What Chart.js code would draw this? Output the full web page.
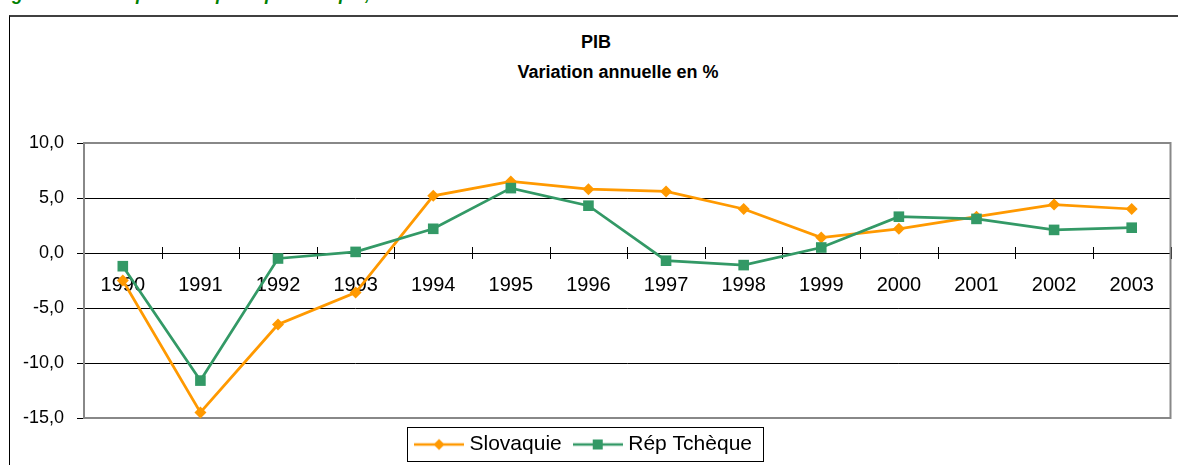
<!DOCTYPE html>
<html>
<head>
<meta charset="utf-8">
<script src="https://cdn.jsdelivr.net/npm/chart.js@4.4.1/dist/chart.umd.min.js"></script>
<style>
	html, body {
		margin: 0;
		padding: 0;
		width: 1178px;
		height: 465px;
		overflow: hidden;
		background: #fff;
		font-family: "Liberation Sans", Arial, sans-serif;
	}

	#caption {
		position: absolute;
		left: -4px;
		top: -16px;
		color: #008000;
		font-weight: bold;
		font-style: italic;
		font-size: 18px;
		white-space: nowrap;
	}

	#frame {
		position: absolute;
		left: 9px;
		top: 15px;
		width: 1200px;
		height: 500px;
		border-left: 1px solid #000;
		border-top: 2px solid #404040;
	}

	.title {
		position: absolute;
		width: 400px;
		text-align: center;
		font-weight: bold;
		font-size: 18px;
		line-height: 20px;
		color: #000;
	}

	#wrap {
		position: absolute;
		left: 0;
		top: 0;
		width: 1178px;
		height: 465px;
	}
</style>
</head>
<body>
<div id="caption">Figure 2 : Slovaquie et République tchèque, croissance du PIB</div>
<div id="frame"></div>
<div class="title" style="left: 396px; top: 32px;">PIB</div>
<div class="title" style="left: 418px; top: 62px;">Variation annuelle en %</div>
<div id="wrap"><canvas id="chart" width="1178" height="465"></canvas></div>

<script>
const years = ['1990', '1991', '1992', '1993', '1994', '1995', '1996', '1997', '1998', '1999', '2000', '2001', '2002', '2003'];
const slovaquie = [-2.5, -14.5, -6.5, -3.6, 5.2, 6.5, 5.8, 5.6, 4.0, 1.4, 2.2, 3.3, 4.4, 4.0];
const repTcheque = [-1.2, -11.6, -0.5, 0.1, 2.2, 5.9, 4.3, -0.7, -1.1, 0.5, 3.3, 3.1, 2.1, 2.3];
const yMin = -15;
const yMax = 10;
const yStep = 5;

const ORANGE = '#FF9900';
const GREEN = '#339966';
const FONT = '"Liberation Sans", Arial, sans-serif';

function formatTick(value) {
	return Number(value).toFixed(1).replace('.', ',');
}

function makeLegendIcon(color, style) {
	const icon = document.createElement('canvas');
	icon.width = 50;
	icon.height = 14;
	const ctx = icon.getContext('2d');

	ctx.strokeStyle = color;
	ctx.lineWidth = 2.5;
	ctx.beginPath();
	ctx.moveTo(0, 7);
	ctx.lineTo(50, 7);
	ctx.stroke();

	ctx.fillStyle = color;
	if (style === 'diamond') {
		ctx.beginPath();
		ctx.moveTo(25, 1.5);
		ctx.lineTo(30.5, 7);
		ctx.lineTo(25, 12.5);
		ctx.lineTo(19.5, 7);
		ctx.closePath();
		ctx.fill();
	} else {
		ctx.fillRect(20, 2, 10, 10);
	}

	return icon;
}

const legendIcons = [makeLegendIcon(ORANGE, 'diamond'), makeLegendIcon(GREEN, 'square')];

// plot frame, crossing tick marks on the zero axis, legend box
const decorations = {
	id: 'decorations',
	beforeDatasetsDraw(chart) {
		const { ctx, chartArea } = chart;
		const x = chart.scales.x;
		const y = chart.scales.y;
		const zero = y.getPixelForValue(0);
		const step = (x.right - x.left) / years.length;

		ctx.save();
		ctx.strokeStyle = '#000';
		ctx.lineWidth = 1;
		ctx.beginPath();
		for (let i = 1; i <= years.length; i++) {
			const px = Math.round(x.left + i * step) + 0.5;
			ctx.moveTo(px, zero - 6);
			ctx.lineTo(px, zero + 6);
		}
		ctx.stroke();

		ctx.strokeStyle = '#888';
		ctx.lineWidth = 2;
		ctx.strokeRect(chartArea.left, chartArea.top, chartArea.right - chartArea.left, chartArea.bottom - chartArea.top);
		ctx.restore();
	},
	afterDraw(chart) {
		const boxes = chart.legend && chart.legend.legendHitBoxes;
		if (!boxes || boxes.length === 0) {
			return;
		}

		const left = Math.min(...boxes.map((b) => b.left)) - 12;
		const right = Math.max(...boxes.map((b) => b.left + b.width)) + 11;
		const top = boxes[0].top - 7;
		const bottom = boxes[0].top + boxes[0].height + 6;
		const ctx = chart.ctx;

		ctx.save();
		ctx.strokeStyle = '#000';
		ctx.lineWidth = 1;
		ctx.strokeRect(Math.round(left) + 0.5, Math.round(top) + 0.5, Math.round(right - left), Math.round(bottom - top));
		ctx.restore();
	}
};

new Chart(document.getElementById('chart').getContext('2d'), {
	type: 'line',
	data: {
		labels: years,
		datasets: [
			{
				label: 'Slovaquie',
				data: slovaquie,
				borderColor: ORANGE,
				backgroundColor: ORANGE,
				borderWidth: 2.75,
				pointStyle: 'rectRot',
				pointRadius: 6,
				pointBorderWidth: 0,
				pointBackgroundColor: ORANGE,
				tension: 0,
				order: 1
			},
			{
				label: 'Rép Tchèque',
				data: repTcheque,
				borderColor: GREEN,
				backgroundColor: GREEN,
				borderWidth: 2.75,
				pointStyle: 'rect',
				pointRadius: 7.5,
				pointBorderWidth: 0,
				pointBackgroundColor: GREEN,
				tension: 0,
				order: 0
			}
		]
	},
	options: {
		responsive: false,
		animation: false,
		devicePixelRatio: 1,
		clip: false,
		layout: {
			padding: { left: 0, right: 7, top: 143, bottom: 0 }
		},
		plugins: {
			title: { display: false },
			tooltip: { enabled: false },
			legend: {
				position: 'bottom',
				labels: {
					usePointStyle: true,
					pointStyleWidth: 40,
					boxHeight: 21,
					padding: 16,
					color: '#000',
					font: { family: FONT, size: 21 },
					generateLabels(chart) {
						return chart.data.datasets.map((dataset, index) => ({
							text: dataset.label,
							pointStyle: legendIcons[index],
							fillStyle: dataset.borderColor,
							strokeStyle: dataset.borderColor,
							lineWidth: 0,
							hidden: false,
							datasetIndex: index
						}));
					}
				}
			}
		},
		scales: {
			x: {
				type: 'category',
				position: { y: 0 },
				offset: true,
				grid: { display: false, drawTicks: false },
				border: { display: false },
				ticks: {
					color: '#000',
					font: { family: FONT, size: 20 },
					padding: 20,
					maxRotation: 0,
					autoSkip: false
				},
				afterFit(scale) {
					scale.height = 0;
				}
			},
			y: {
				min: yMin,
				max: yMax,
				border: { display: false },
				grid: {
					color: (ctx) => (ctx.tick && (ctx.tick.value === yMin || ctx.tick.value === yMax) ? 'rgba(0,0,0,0)' : '#000'),
					tickColor: '#000',
					tickLength: 7,
					lineWidth: 1
				},
				ticks: {
					stepSize: yStep,
					color: '#000',
					font: { family: FONT, size: 18 },
					padding: 13,
					callback: (value) => formatTick(value)
				},
				afterFit(scale) {
					scale.width = 84;
				}
			}
		}
	},
	plugins: [decorations]
});
</script>
</body>
</html>
